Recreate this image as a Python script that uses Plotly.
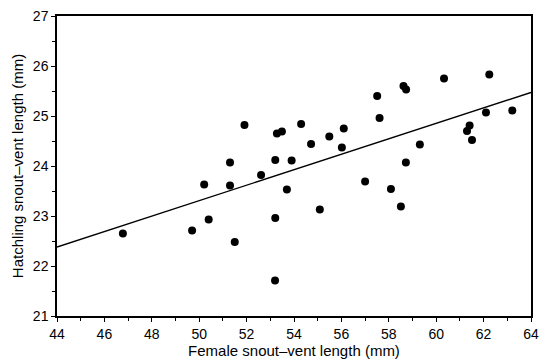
import plotly.graph_objects as go

female_svl = [46.78, 49.70, 50.21, 50.40, 51.30, 51.30, 51.50, 51.91, 52.61, 53.21,
              53.21, 53.20, 53.28, 53.49, 53.70, 53.90, 54.30, 54.72, 55.09, 55.49,
              56.02, 56.10, 57.00, 57.51, 57.61, 58.09, 58.51, 58.62, 58.73, 58.72,
              59.31, 60.33, 61.30, 61.41, 61.51, 62.10, 62.24, 63.21]
hatchling_svl = [22.65, 22.71, 23.63, 22.93, 24.07, 23.61, 22.48, 24.82, 23.82, 24.12,
                 22.96, 21.71, 24.65, 24.69, 23.53, 24.11, 24.84, 24.44, 23.13, 24.59,
                 24.37, 24.75, 23.69, 25.40, 24.96, 23.54, 23.19, 25.60, 25.53, 24.07,
                 24.43, 25.75, 24.70, 24.81, 24.52, 25.07, 25.83, 25.11]
fit_x = [44, 64]
fit_y = [22.38, 25.47]

x_ticks = [44, 46, 48, 50, 52, 54, 56, 58, 60, 62, 64]
y_ticks = [21, 22, 23, 24, 25, 26, 27]

fig = go.Figure()
fig.add_trace(go.Scatter(x=fit_x, y=fit_y, mode="lines",
                         line=dict(color="black", width=1.4), showlegend=False))
fig.add_trace(go.Scatter(x=female_svl, y=hatchling_svl, mode="markers",
                         marker=dict(color="black", size=8), showlegend=False))

font = "Liberation Sans, Arial, sans-serif"
fig.update_layout(
    width=546, height=363,
    margin=dict(l=57, r=7, t=16, b=47),
    paper_bgcolor="white", plot_bgcolor="white",
    font=dict(family=font, color="black", size=14),
)
fig.update_xaxes(
    range=[44, 64], tickvals=x_ticks, ticktext=[str(v) for v in x_ticks],
    showgrid=False, zeroline=False, showline=True, linecolor="black", linewidth=1.5,
    mirror=True, ticks="outside", ticklen=4, tickwidth=1.2, tickcolor="black",
    minor=dict(dtick=1, ticks="outside", ticklen=3, tickcolor="black", showgrid=False),
    tickfont=dict(size=14, family=font),
    title=dict(text="Female snout\u2013vent length (mm)", font=dict(size=15, family=font), standoff=2),
)
fig.update_yaxes(
    range=[21, 27], tickvals=y_ticks, ticktext=[str(v) for v in y_ticks],
    showgrid=False, zeroline=False, showline=True, linecolor="black", linewidth=1.5,
    mirror=True, ticks="outside", ticklen=4, tickwidth=1.2, tickcolor="black",
    minor=dict(dtick=0.5, ticks="outside", ticklen=3, tickcolor="black", showgrid=False),
    tickfont=dict(size=14, family=font),
    title=dict(text="Hatchling snout\u2013vent length (mm)", font=dict(size=15, family=font), standoff=6),
)
fig.write_html("out.html")
